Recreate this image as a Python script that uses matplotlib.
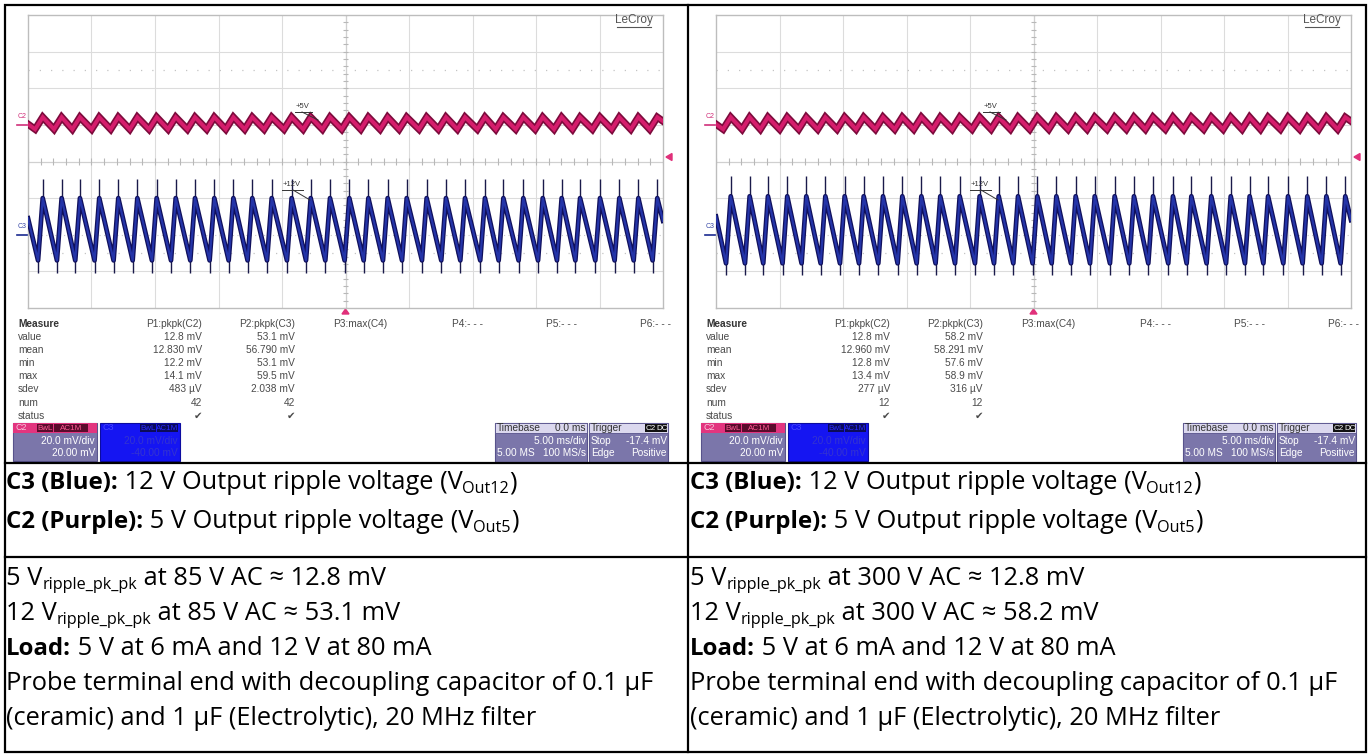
import matplotlib.pyplot as plt
from matplotlib.patches import Rectangle, Polygon

W, H = 1370, 756
plt.rcParams['font.family'] = ['Open Sans', 'DejaVu Sans']
SCOPE_FONT = ['Liberation Sans', 'DejaVu Sans']

# ---------------- scope traces (time in ms, level in divisions) ----------------
c3_peak_t_85 = [-23.84, -22.35, -20.91, -19.39, -17.89, -16.39, -14.87, -13.37, -11.85,
                -10.33, -8.83, -7.34, -5.81, -4.24, -2.74, -1.22, 0.30, 1.80, 3.32, 4.82,
                6.39, 7.91, 9.41, 10.98, 12.43, 14.00, 15.53, 17.02, 18.47, 20.04, 21.56,
                23.06, 24.55]
c3_trough_t_85 = [-24.21, -22.72, -21.28, -19.76, -18.26, -16.76, -15.24, -13.74, -12.22,
                  -10.70, -9.20, -7.71, -6.18, -4.61, -3.11, -1.59, -0.07, 1.43, 2.95, 4.45,
                  6.02, 7.54, 9.04, 10.61, 12.06, 13.63, 15.16, 16.65, 18.10, 19.67, 21.19,
                  22.69, 24.18]
c2_trough_t_85 = [-24.44, -22.95, -21.51, -19.99, -18.49, -16.99, -15.47, -13.97, -12.45,
                  -10.93, -9.43, -7.94, -6.41, -4.84, -3.34, -1.82, -0.30, 1.20, 2.72, 4.22,
                  5.79, 7.31, 8.81, 10.38, 11.83, 13.40, 14.93, 16.42, 17.87, 19.44, 20.96,
                  22.46, 23.95]

# 300 V AC capture
c3_peak_t_300 = c3_peak_t_85
c3_trough_t_300 = c3_trough_t_85
c2_trough_t_300 = c2_trough_t_85

# levels: [body peak, body trough, spike top, spike bottom, start, end]
c3_levels_85 = [-1.00, -2.70, -0.48, -3.05, -1.55, -1.62]
c3_levels_300 = [-0.95, -2.78, -0.40, -3.10, -1.50, -1.60]
# C2: [peak, trough, start, end]
c2_levels_85 = [1.21, 0.88, 1.02, 1.10]
c2_levels_300 = [1.21, 0.88, 1.02, 1.10]

# ---------------- measurement tables ----------------
measure_rows = ['value', 'mean', 'min', 'max', 'sdev', 'num', 'status']
p1_85 = ['12.8 mV', '12.830 mV', '12.2 mV', '14.1 mV', '483 µV', '42', '✔']
p2_85 = ['53.1 mV', '56.790 mV', '53.1 mV', '59.5 mV', '2.038 mV', '42', '✔']
p1_300 = ['12.8 mV', '12.960 mV', '12.8 mV', '13.4 mV', '277 µV', '12', '✔']
p2_300 = ['58.2 mV', '58.291 mV', '57.6 mV', '58.9 mV', '316 µV', '12', '✔']
measure_heads = ['P1:pkpk(C2)', 'P2:pkpk(C3)', 'P3:max(C4)', 'P4:- - -', 'P5:- - -', 'P6:- - -']

c2_setup = ['20.0 mV/div', '20.00 mV']
c3_setup = ['20.0 mV/div', '-40.00 mV']
timebase = ['0.0 ms', '5.00 ms/div', '5.00 MS', '100 MS/s']
trigger = ['Stop', '-17.4 mV', 'Edge', 'Positive']

# ---------------- table text ----------------
ac_in = ['85', '300']
ripple5 = ['12.8', '12.8']
ripple12 = ['53.1', '58.2']

fig = plt.figure(figsize=(W / 100, H / 100), dpi=100)
bg = fig.add_axes([0, 0, 1, 1])
bg.set_xlim(0, W)
bg.set_ylim(H, 0)
bg.axis('off')
rend = fig.canvas.get_renderer()


def text_runs(ax, x, y, parts, size=18.3):
    for s, kind in parts:
        fs, dy, fw = size, 0, 'normal'
        if kind == 'b':
            fs, fw = size * 0.945, 'bold'
        elif kind == 's':
            fs, dy = size * 0.64, 4
        t = ax.text(x, y + dy, s, fontsize=fs, fontweight=fw, va='baseline', ha='left',
                    color='black')
        x += t.get_window_extent(rend).width


def draw_scope(x0, peaks, troughs, c2_troughs, lv3, lv2, p1, p2):
    gl, gt, gw, gh = x0 + 28, 15, 635, 293
    ax = fig.add_axes([gl / W, 1 - (gt + gh) / H, gw / W, gh / H])
    ax.set_xlim(-25, 25)
    ax.set_ylim(-4, 4)
    ax.set_xticks([])
    ax.set_yticks([])
    for sp in ax.spines.values():
        sp.set_color('#bdbdbd')
        sp.set_linewidth(1.0)
    for i in range(1, 10):
        ax.axvline(-25 + 5 * i, color='#dcdcdc', lw=0.8, zorder=1)
    for j in [-3, -1, 1, 2, 3]:
        ax.axhline(j, color='#dcdcdc', lw=0.8, zorder=1)
    ax.axhline(-2, color='#c8c8c8', lw=0.8, ls=(0, (1, 3)), zorder=1)
    for j in [2.5, -2.5]:
        ax.axhline(j, color='#c4c4c4', lw=0.9, ls=(0, (1, 8)), zorder=1)
    ax.axhline(0, color='#d0d0d0', lw=0.9, zorder=1)
    ax.axvline(0, color='#d0d0d0', lw=0.9, zorder=1)
    tx = [-25 + 1.0 * k for k in range(51)]
    ax.vlines(tx, -0.1, 0.1, color='#b8b8b8', lw=0.8, zorder=1)
    ty = [-4 + 0.2 * k for k in range(41)]
    ax.hlines(ty, -0.22, 0.22, color='#b8b8b8', lw=0.8, zorder=1)

    # C2 trace
    vt = [-25]
    vv = [lv2[2]]
    for tr, pk in zip(c2_troughs, peaks):
        vt += [tr, pk]
        vv += [lv2[1], lv2[0]]
    vt.append(25)
    vv.append(lv2[3])
    ax.plot(vt, vv, color='#7c0b3c', lw=5.2, solid_joinstyle='miter', zorder=3)
    ax.plot(vt, vv, color='#d51d6c', lw=2.8, solid_joinstyle='miter', zorder=4)

    # C3 trace
    vt = [-25]
    vv = [lv3[4]]
    for tr, pk in zip(troughs, peaks):
        vt += [tr, pk]
        vv += [lv3[1], lv3[0]]
    vt.append(25)
    vv.append(lv3[5])
    ax.vlines(peaks, lv3[0], lv3[2], color='#1a1a4a', lw=1.0, zorder=3)
    ax.vlines(troughs, lv3[3], lv3[1], color='#1a1a4a', lw=1.0, zorder=3)
    ax.plot(vt, vv, color='#10105c', lw=3.4, zorder=4)
    ax.plot(vt, vv, color='#2434a8', lw=1.6, zorder=5)

    # labels around grid
    ff = SCOPE_FONT
    bg.text(x0 + 22, 120, 'C2', fontsize=5, color='#d0307a', family=ff, ha='center', va='bottom')
    bg.plot([x0 + 17, x0 + 28], [125, 125], color='#d0307a', lw=1.2)
    bg.text(x0 + 22, 230, 'C3', fontsize=5, color='#3a4aa8', family=ff, ha='center', va='bottom')
    bg.plot([x0 + 17, x0 + 28], [235, 235], color='#1a2a90', lw=1.2)
    bg.add_patch(Polygon([[x0 + 666, 157], [x0 + 672, 153.5], [x0 + 672, 160.5]],
                         closed=True, color='#e0307a'))
    bg.add_patch(Polygon([[x0 + 345.5, 309], [x0 + 342, 314], [x0 + 349, 314]],
                         closed=True, color='#e0307a'))

    # measure table
    ry = [324 + 13.1 * k for k in range(8)]
    mc = '#4a4a4a'
    bg.text(x0 + 18, ry[0], 'Measure', fontsize=7.3, fontweight='bold', color='#333333',
            family=ff, va='center')
    hx = [(x0 + 202, 'right'), (x0 + 295, 'right'), (x0 + 333, 'left'),
          (x0 + 452, 'left'), (x0 + 546, 'left'), (x0 + 640, 'left')]
    for (hxx, ha), h in zip(hx, measure_heads):
        bg.text(hxx, ry[0], h, fontsize=7.3, color=mc, family=ff, ha=ha, va='center')
    for k, name in enumerate(measure_rows):
        bg.text(x0 + 18, ry[k + 1], name, fontsize=7.3, color=mc, family=ff, va='center')
        bg.text(x0 + 202, ry[k + 1], p1[k], fontsize=7.3, color=mc, family=ff,
                ha='right', va='center')
        bg.text(x0 + 295, ry[k + 1], p2[k], fontsize=7.3, color=mc, family=ff,
                ha='right', va='center')

    # channel / timebase boxes
    body = '#7b76aa'
    edge = '#58538c'
    bx = x0 + 13
    bg.add_patch(Rectangle((bx, 423), 84, 38, fc=body, ec=edge, lw=0.8))
    bg.add_patch(Rectangle((bx, 423), 84, 10, fc='#e2357f', ec='none'))
    bg.text(bx + 3, 428, 'C2', fontsize=6.5, color='#f7c6dc', family=ff, va='center')
    bg.add_patch(Rectangle((bx + 24, 424), 16, 8, fc='#5a0b2c', ec='none'))
    bg.add_patch(Rectangle((bx + 41, 424), 34, 8, fc='#5a0b2c', ec='none'))
    bg.text(bx + 32, 428, 'BwL', fontsize=5.8, color='#ff5b95', family=ff, ha='center', va='center')
    bg.text(bx + 58, 428, 'AC1M', fontsize=5.8, color='#ff5b95', family=ff, ha='center', va='center')
    bg.text(bx + 82, 441.5, c2_setup[0], fontsize=7.3, color='white', family=ff, ha='right', va='center')
    bg.text(bx + 82, 453, c2_setup[1], fontsize=7.3, color='white', family=ff, ha='right', va='center')

    bx = x0 + 100
    bg.add_patch(Rectangle((bx, 423), 80, 38, fc='#1515f2', ec='#0c0ca0', lw=0.8))
    bg.text(bx + 3, 428, 'C3', fontsize=6.5, color='#4848ff', family=ff, va='center')
    bg.add_patch(Rectangle((bx + 40, 424), 16, 8, fc='#0b0b5a', ec='none'))
    bg.add_patch(Rectangle((bx + 57, 424), 21, 8, fc='#0b0b5a', ec='none'))
    bg.text(bx + 48, 428, 'BwL', fontsize=5.8, color='#2a2aff', family=ff, ha='center', va='center')
    bg.text(bx + 67.5, 428, 'AC1M', fontsize=5.8, color='#2a2aff', family=ff, ha='center', va='center')
    bg.text(bx + 78, 441.5, c3_setup[0], fontsize=7.3, color='#3434d0', family=ff, ha='right', va='center')
    bg.text(bx + 78, 453, c3_setup[1], fontsize=7.3, color='#3434d0', family=ff, ha='right', va='center')

    bx = x0 + 495
    bg.add_patch(Rectangle((bx, 423), 92, 39, fc=body, ec=edge, lw=0.8))
    bg.add_patch(Rectangle((bx, 423), 92, 10, fc='#dbd8ee', ec=edge, lw=0.6))
    bg.text(bx + 2, 428, 'Timebase', fontsize=7.3, color='#333333', family=ff, va='center')
    bg.text(bx + 91, 428, timebase[0], fontsize=7.3, color='#333333', family=ff, ha='right', va='center')
    bg.text(bx + 91, 441.5, timebase[1], fontsize=7.3, color='white', family=ff, ha='right', va='center')
    bg.text(bx + 2, 453, timebase[2], fontsize=7.3, color='white', family=ff, va='center')
    bg.text(bx + 91, 453, timebase[3], fontsize=7.3, color='white', family=ff, ha='right', va='center')

    bx = x0 + 589
    bg.add_patch(Rectangle((bx, 423), 79, 39, fc=body, ec=edge, lw=0.8))
    bg.add_patch(Rectangle((bx, 423), 79, 10, fc='#dbd8ee', ec=edge, lw=0.6))
    bg.text(bx + 2, 428, 'Trigger', fontsize=7.3, color='#333333', family=ff, va='center')
    bg.add_patch(Rectangle((bx + 56, 424), 11, 8, fc='#111111', ec='none'))
    bg.add_patch(Rectangle((bx + 67.5, 424), 11, 8, fc='#111111', ec='none'))
    bg.text(bx + 61.5, 428, 'C2', fontsize=5.8, color='white', family=ff, ha='center', va='center')
    bg.text(bx + 73, 428, 'DC', fontsize=5.8, color='white', family=ff, ha='center', va='center')
    bg.text(bx + 2, 441.5, trigger[0], fontsize=7.3, color='white', family=ff, va='center')
    bg.text(bx + 78, 441.5, trigger[1], fontsize=7.3, color='white', family=ff, ha='right', va='center')
    bg.text(bx + 2, 453, trigger[2], fontsize=7.3, color='white', family=ff, va='center')
    bg.text(bx + 78, 453, trigger[3], fontsize=7.3, color='white', family=ff, ha='right', va='center')
    return ax


draw_scope(0, c3_peak_t_85, c3_trough_t_85, c2_trough_t_85, c3_levels_85, c2_levels_85, p1_85, p2_85)
draw_scope(688, c3_peak_t_300, c3_trough_t_300, c2_trough_t_300, c3_levels_300, c2_levels_300,
           p1_300, p2_300)

# overlay for the labels drawn over the grids
ov = fig.add_axes([0, 0, 1, 1])
ov.set_xlim(0, W)
ov.set_ylim(H, 0)
ov.axis('off')
ov.patch.set_alpha(0)
for x0 in [0, 688]:
    ov.text(x0 + 634, 20, 'LeCroy', fontsize=8.5, color='#555555', family=SCOPE_FONT,
            ha='center', va='center')
    ov.plot([x0 + 617, x0 + 651], [27, 27], color='#555555', lw=0.8)
    ov.text(x0 + 303, 106, '+5V', fontsize=5.5, color='#333333', family=SCOPE_FONT,
            ha='center', va='center')
    ov.plot([x0 + 295, x0 + 312], [112, 112], color='#333333', lw=0.7)
    ov.plot([x0 + 302, x0 + 318], [112, 120], color='#333333', lw=0.7)
    ov.text(x0 + 292, 185, '+12V', fontsize=5.5, color='#333333', family=SCOPE_FONT,
            ha='center', va='center')
    ov.plot([x0 + 282, x0 + 303], [190, 190], color='#333333', lw=0.7)
    ov.plot([x0 + 293, x0 + 310], [190, 200], color='#333333', lw=0.7)

# table grid
bg.add_patch(Rectangle((5, 5), 1361, 747, fc='none', ec='black', lw=1.6))
bg.plot([688, 688], [5, 752], color='black', lw=1.6)
bg.plot([5, 1366], [463, 463], color='black', lw=1.6)
bg.plot([5, 1366], [557, 557], color='black', lw=1.6)

for k, x0 in enumerate([6, 690]):
    text_runs(bg, x0, 489, [('C3 (Blue):', 'b'), (' 12 V Output ripple voltage (V', 'r'),
                            ('Out12', 's'), (')', 'r')])
    text_runs(bg, x0, 528, [('C2 (Purple):', 'b'), (' 5 V Output ripple voltage (V', 'r'),
                            ('Out5', 's'), (')', 'r')])
    text_runs(bg, x0, 585, [('5 V', 'r'), ('ripple_pk_pk', 's'),
                            (' at %s V AC ≈ %s mV' % (ac_in[k], ripple5[k]), 'r')])
    text_runs(bg, x0, 620, [('12 V', 'r'), ('ripple_pk_pk', 's'),
                            (' at %s V AC ≈ %s mV' % (ac_in[k], ripple12[k]), 'r')])
    text_runs(bg, x0, 655, [('Load:', 'b'), (' 5 V at 6 mA and 12 V at 80 mA', 'r')])
    text_runs(bg, x0, 690, [('Probe terminal end with decoupling capacitor of 0.1 µF', 'r')])
    text_runs(bg, x0, 725, [('(ceramic) and 1 µF (Electrolytic), 20 MHz filter', 'r')])

fig.savefig('out.png', dpi=100)
